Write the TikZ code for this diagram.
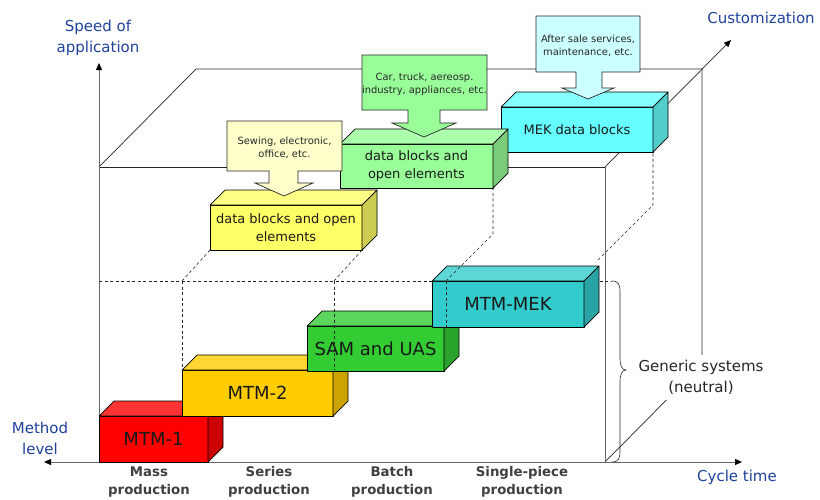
\documentclass[tikz,border=0pt]{standalone}
\usepackage{fontspec}
\setmainfont{DejaVu Sans}
\usetikzlibrary{arrows.meta}
\definecolor{axisblue}{RGB}{32,66,156}
\definecolor{labgray}{RGB}{64,64,64}
% lower boxes
\definecolor{rF}{HTML}{FF0000}\definecolor{rT}{HTML}{FF3333}\definecolor{rS}{HTML}{CC0000}
\definecolor{oF}{HTML}{FFCC00}\definecolor{oT}{HTML}{FFD633}\definecolor{oS}{HTML}{CCA300}
\definecolor{gF}{HTML}{33CC33}\definecolor{gT}{HTML}{5CD65C}\definecolor{gS}{HTML}{29A329}
\definecolor{cF}{HTML}{33CCCC}\definecolor{cT}{HTML}{5CD6D6}\definecolor{cS}{HTML}{29A3A3}
% upper boxes
\definecolor{yF}{HTML}{FFFF66}\definecolor{yT}{HTML}{FFFF85}\definecolor{yS}{HTML}{CCCC52}
\definecolor{lgF}{HTML}{99FF99}\definecolor{lgT}{HTML}{ADFFAD}\definecolor{lgS}{HTML}{7ACC7A}
\definecolor{lcF}{HTML}{66FFFF}\definecolor{lcT}{HTML}{85FFFF}\definecolor{lcS}{HTML}{52CCCC}
% callouts
\definecolor{yC}{HTML}{FFFFCC}\definecolor{gC}{HTML}{99FF99}\definecolor{cC}{HTML}{CCFFFF}
\tikzset{
  cubeedge/.style={draw=black, line width=0.7pt, line join=round},
  cubefront/.style={cubeedge, rectangle, inner sep=0pt, outer sep=0pt, align=center, text=black!90},
  bigtxt/.style={font=\fontsize{18}{21}\selectfont},
  midtxt/.style={font=\fontsize{13}{18}\selectfont},
  smalltxt/.style={font=\fontsize{9.9}{13}\selectfont, align=center, text=black!85},
  axislab/.style={font=\fontsize{15}{21}\selectfont, text=axisblue, align=center},
  prodlab/.style={font=\bfseries\fontsize{13.3}{18}\selectfont, text=labgray, align=center},
  frame/.style={draw=black!85, line width=0.7pt},
  axisline/.style={draw=black!60, line width=1pt},
  tip/.style={-{Triangle[length=7pt,width=6pt,color=black]}},
  dashline/.style={draw=black!85, line width=0.6pt, dash pattern=on 3pt off 2.5pt},
  callout/.style={draw=black!85, line width=0.7pt, line join=miter},
}
\newcommand\cuboid[8]{%
  \node[cubefront, #3, fill=#2F, minimum width=#6pt, minimum height=#7pt] (#1) at (#4,#5) {#8};
  \filldraw[cubeedge, fill=#2T] (#1.north west) -- ++(15,-15) -- ++(#6,0) -- (#1.north east) -- cycle;
  \filldraw[cubeedge, fill=#2S] (#1.north east) -- ++(15,-15) -- ++(0,#7) -- (#1.south east) -- cycle;
}
\begin{document}
\begin{tikzpicture}[x=1pt,y=-1pt]
\useasboundingbox[fill=white] (0,0) rectangle (820,499);
% cube corners
\coordinate (O) at (99,462);
\coordinate (FTL) at (99,167);
\coordinate (FTR) at (605,167);
\coordinate (FBR) at (605,462);
\coordinate (BTL) at (196,69);
\coordinate (BTR) at (702,69);
\coordinate (BBR) at (702,364);
\coordinate (YT) at (99,63);
\coordinate (XL) at (44,462);
\coordinate (XR) at (742,462);
\coordinate (ZT) at (731,40);
% frame
\draw[frame] (FTL) -- (FTR);
\draw[frame] (FTL) -- (BTL) -- (BTR) -- (BBR) -- (FBR);
\draw[frame, tip] (FTR) -- (ZT);
\draw[axisline] (FTR) -- (FBR);
\draw[axisline, tip] (O) -- (YT);
\draw[axisline, {Triangle[length=7pt,width=6pt,color=black]}-{Triangle[length=7pt,width=6pt,color=black]}] (XL) -- (XR);
% generic dashed level
\coordinate (L0) at (99,281);
\coordinate (L1) at (182,281);
\coordinate (L2) at (334,281);
\coordinate (L3) at (446,281);
\coordinate (BrT) at (612,281);
\coordinate (BrB) at (612,462);
\draw[dashline] (L0) -- (BrT);
% brace
\draw[black!85, line width=0.6pt] (BrT) .. controls (619,281) and (620,285) .. (620,293) -- (620,358)
   .. controls (620,366) and (622,370) .. (626,370) .. controls (622,370) and (620,374) .. (620,382)
   -- (620,450) .. controls (620,458) and (619,462) .. (BrB);
% lower boxes
\cuboid{mtmone}{r}{bigtxt}{153.5}{439}{109}{46}{MTM-1}
\cuboid{mtmtwo}{o}{bigtxt}{257.5}{393}{151}{46}{MTM-2}
\cuboid{sam}{g}{bigtxt}{375.5}{348.5}{137}{45}{SAM and UAS}
\cuboid{mtmmek}{c}{bigtxt}{508}{304}{152}{46}{MTM-MEK}
% dashed connectors
\draw[dashline] (L1) -- (182,370);
\draw[dashline] (L2) -- (334,370);
\draw[dashline] (L3) -- (446,327);
% upper boxes
\cuboid{mekdata}{lc}{midtxt}{577}{129.5}{152}{45}{MEK data blocks}
\cuboid{greendata}{lg}{midtxt}{416.5}{166}{153}{44}{data blocks and\\open elements}
\cuboid{yellowdata}{y}{midtxt}{286}{227.5}{152}{45}{data blocks and open\\elements}
\draw[dashline] (L1) -- (yellowdata.south west);
\draw[dashline] (L2) -- (yellowdata.south east);
\draw[dashline] (L3) -- (493,234) -- (greendata.south east);
\draw[dashline] (598,260) -- (653,205) -- (mekdata.south east);
% callouts
\filldraw[callout, fill=yC] (227,121) -- (342,121) -- (342,171) -- (298,171) -- (298,183) -- (313,183)
  -- (284,196) -- (255,183) -- (269,183) -- (269,171) -- (227,171) -- cycle;
\node[smalltxt] (sewing) at (284.5,147.5) {Sewing, electronic,\\office, etc.};
\filldraw[callout, fill=gC] (362,55) -- (487,55) -- (487,110) -- (440,110) -- (440,123) -- (456,123)
  -- (424,137) -- (392,123) -- (408,123) -- (408,110) -- (362,110) -- cycle;
\node[smalltxt] (car) at (424.5,84) {Car, truck, aereosp.\\industry, appliances, etc.};
\filldraw[callout, fill=cC] (536,16) -- (640,16) -- (640,72) -- (602,72) -- (602,88) -- (614,88)
  -- (588,99) -- (562,88) -- (576,88) -- (576,72) -- (536,72) -- cycle;
\node[smalltxt] (after) at (588,45.5) {After sale services,\\maintenance, etc.};
% labels
\node[axislab] (speed) at (98,37.5) {Speed of\\application};
\node[axislab] (custom) at (761,18) {Customization};
\node[axislab] (method) at (40,438) {Method\\level};
\node[axislab] (cycle) at (737,477) {Cycle time};
\node[font=\fontsize{15}{21}\selectfont, align=center, fill=white, inner xsep=3pt, inner ysep=5pt, text=black!85] (generic) at (701,377.5) {Generic systems\\(neutral)};
\node[prodlab] (mass) at (149,482) {Mass\\production};
\node[prodlab] (series) at (269,482) {Series\\production};
\node[prodlab] (batch) at (392,482) {Batch\\production};
\node[prodlab] (single) at (522,482) {Single-piece\\production};
\end{tikzpicture}
\end{document}
